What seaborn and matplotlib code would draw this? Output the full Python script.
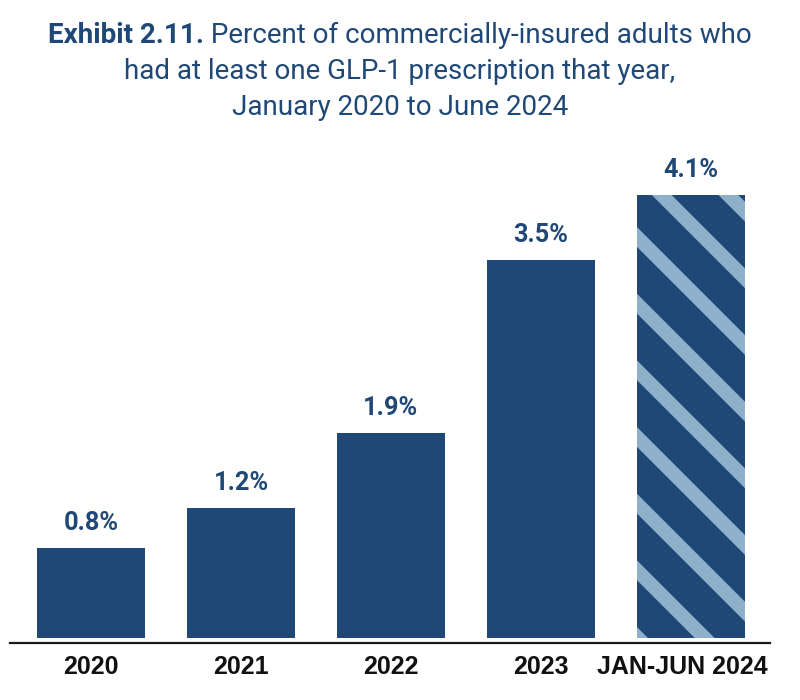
import matplotlib
matplotlib.use("Agg")
import matplotlib.pyplot as plt
import matplotlib.transforms as mtransforms
import seaborn as sns
import pandas as pd

categories = ["2020", "2021", "2022", "2023", "JAN-JUN 2024"]
values = [0.83, 1.2, 1.9, 3.5, 4.1]
value_labels = ["0.8%", "1.2%", "1.9%", "3.5%", "4.1%"]
title_bold = "Exhibit 2.11."
title_rest = " Percent of commercially-insured adults who"
title_line2 = "had at least one GLP-1 prescription that year,"
title_line3 = "January 2020 to June 2024"

BAR = "#1f4876"
HATCH = "#8fb0cb"
TITLE_C = "#1f4876"

DPI = 400
W, H = 800, 700
def pt(px):
    return px * 72.0 / DPI

sns.set_theme(style="white")
plt.rcParams["hatch.linewidth"] = pt(14)
title_fam = ["Roboto", "DejaVu Sans"]

fig = plt.figure(figsize=(W / DPI, H / DPI), dpi=DPI)
fig.patch.set_facecolor("white")

ppu = 108.0
ymin, ymax = -0.046, 4.6
ax_bottom_px = 57
ax_left_px, ax_right_px = 10, 770
ax = fig.add_axes([ax_left_px / W, ax_bottom_px / H,
                   (ax_right_px - ax_left_px) / W, (ymax - ymin) * ppu / H])

df = pd.DataFrame({"cat": categories, "val": values})
sns.barplot(data=df, x="cat", y="val", color=BAR, saturation=1, width=0.72, ax=ax)
for p in ax.patches:
    p.set_linewidth(0)
last = ax.patches[-1]
last.set_hatch("\\\\")
last.set_edgecolor(HATCH)
last.set_linewidth(0)

ax.set_ylim(ymin, ymax)
ax.set_xlim(-0.543, 4.53)
ax.set_xlabel("")
ax.set_ylabel("")
ax.set_yticks([])
for s in ["left", "right", "top"]:
    ax.spines[s].set_visible(False)
ax.spines["bottom"].set_color("#1a1a1a")
ax.spines["bottom"].set_linewidth(pt(2.2))
ax.tick_params(axis="x", length=0, pad=pt(12))
labs = ax.get_xticklabels()
for lab in labs:
    lab.set_fontfamily(["Liberation Sans", "DejaVu Sans"])
    lab.set_fontweight("bold")
    lab.set_fontsize(pt(25))
    lab.set_color("#111111")
labs[-1].set_transform(labs[-1].get_transform() +
                       mtransforms.ScaledTranslation(pt(-8) / 72, 0, fig.dpi_scale_trans))

for i, (v, t) in enumerate(zip(values, value_labels)):
    ax.annotate(t, xy=(i, v), xytext=(0, pt(13)), textcoords="offset points",
                ha="center", va="bottom", fontsize=pt(25.5), fontweight="bold",
                color=TITLE_C, family=["Roboto", "DejaVu Sans"])

# Title
renderer = fig.canvas.get_renderer()
fs_title = pt(26)
t1 = fig.text(0, 0, title_bold, fontsize=fs_title, fontweight="bold",
              color=TITLE_C, family=title_fam, va="baseline", ha="left")
t2 = fig.text(0, 0, title_rest, fontsize=fs_title, color=TITLE_C,
              family=title_fam, va="baseline", ha="left")
w1 = t1.get_window_extent(renderer).width
w2 = t2.get_window_extent(renderer).width
scale = 703.0 / (w1 + w2)
fs_title = fs_title * scale
t1.set_fontsize(fs_title)
t2.set_fontsize(fs_title)
w1 = t1.get_window_extent(renderer).width
w2 = t2.get_window_extent(renderer).width
x0 = (W - (w1 + w2)) / 2
y1 = 1 - 43 / H
t1.set_position((x0 / W, y1))
t2.set_position(((x0 + w1) / W, y1))
fig.text(0.5, 1 - 79 / H, title_line2, fontsize=fs_title, color=TITLE_C,
         family=title_fam, va="baseline", ha="center")
fig.text(0.5, 1 - 115 / H, title_line3, fontsize=fs_title, color=TITLE_C,
         family=title_fam, va="baseline", ha="center")

fig.savefig("out.png", dpi=DPI, facecolor="white")
